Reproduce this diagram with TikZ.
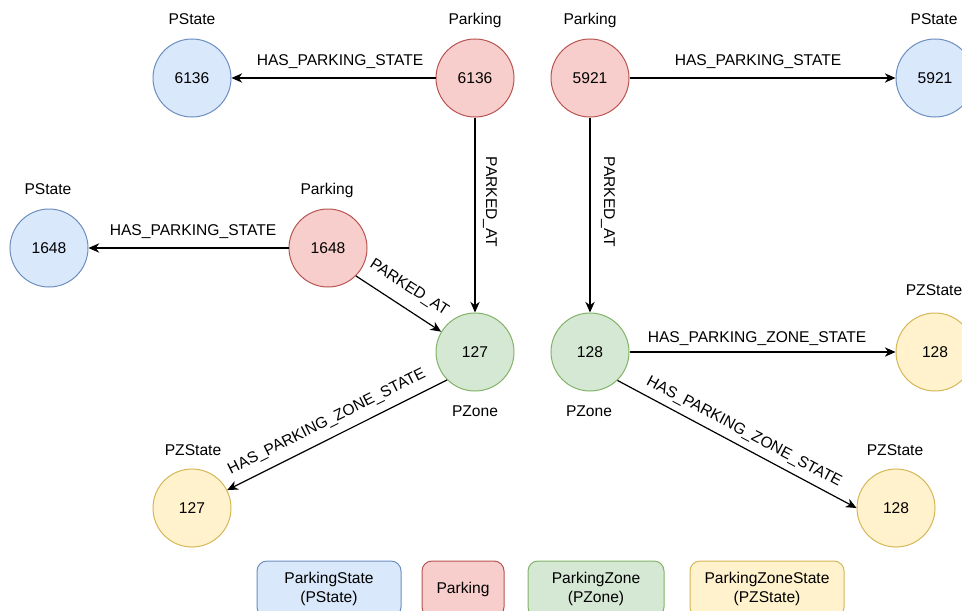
\documentclass[tikz,border=0pt]{standalone}
\usepackage{fontspec}
\setmainfont{Liberation Sans}
\usetikzlibrary{arrows.meta}
\definecolor{bfill}{HTML}{DAE8FC}\definecolor{bdraw}{HTML}{6C8EBF}
\definecolor{rfill}{HTML}{F8CECC}\definecolor{rdraw}{HTML}{B85450}
\definecolor{gfill}{HTML}{D5E8D4}\definecolor{gdraw}{HTML}{82B366}
\definecolor{yfill}{HTML}{FFF2CC}\definecolor{ydraw}{HTML}{D6B656}
\begin{document}
\begin{tikzpicture}[x=0.75pt,y=-0.75pt,
  every node/.style={font=\fontsize{11.7}{14.2}\selectfont},
  circ/.style={circle, minimum size=58.5pt, inner sep=0pt, line width=0.75pt},
  pstate/.style={circ, draw=bdraw, fill=bfill},
  parking/.style={circ, draw=rdraw, fill=rfill},
  pzone/.style={circ, draw=gdraw, fill=gfill},
  pzstate/.style={circ, draw=ydraw, fill=yfill},
  edge/.style={draw=black, line width=0.9pt, -{Stealth[length=8pt,width=7pt,inset=2.5pt]}},
  lbl/.style={inner sep=0pt},
  captxt/.style={inner sep=0pt, anchor=base},
  legend/.style={rounded corners=7.5pt, line width=0.75pt, minimum height=42pt, align=center, inner sep=0pt}]
\useasboundingbox (0,0) rectangle (962,610);
\clip (0,0) rectangle (962,610);
% nodes
\node[pstate]  (s6136) at (192,78) {6136};
\node[parking] (p6136) at (475,78) {6136};
\node[parking] (p5921) at (590,78) {5921};
\node[pstate]  (s5921) at (935,78) {5921};
\node[pstate]  (s1648) at (49,248) {1648};
\node[parking] (p1648) at (328,248) {1648};
\node[pzone]   (z127) at (475,352) {127};
\node[pzone]   (z128) at (590,352) {128};
\node[pzstate] (zs128a) at (935,352) {128};
\node[pzstate] (zs128b) at (896,508) {128};
\node[pzstate] (zs127) at (192,508) {127};
% captions
\node[captxt] (c1) at (192,25) {PState};
\node[captxt] (c2) at (475,25) {Parking};
\node[captxt] (c3) at (590,25) {Parking};
\node[captxt] (c4) at (934,25) {PState};
\node[captxt] (c5) at (48,194) {PState};
\node[captxt] (c6) at (327,194) {Parking};
\node[captxt] (c7) at (475,416) {PZone};
\node[captxt] (c8) at (589,416) {PZone};
\node[captxt] (c9) at (934,295) {PZState};
\node[captxt] (c10) at (895,455) {PZState};
\node[captxt] (c11) at (193,455) {PZState};
% edges
\draw[edge] (p6136) -- (s6136);
\draw[edge] (p6136) -- (z127);
\draw[edge] (p5921) -- (s5921);
\draw[edge] (p5921) -- (z128);
\draw[edge] (p1648) -- (s1648);
\draw[edge] (p1648.-45) -- (z127.149);
\draw[edge] (z127.225) -- (zs127.27);
\draw[edge] (z128) -- (zs128a);
\draw[edge] (z128.-46) -- (zs128b.west);
% edge labels
\node[captxt] (e1) at (340,65) {HAS\_PARKING\_STATE};
\node[captxt] (e2) at (758,65) {HAS\_PARKING\_STATE};
\node[captxt] (e3) at (193,235) {HAS\_PARKING\_STATE};
\node[lbl, rotate=-90] (e4) at (490,202) {PARKED\_AT};
\node[lbl, rotate=-90] (e5) at (608,202) {PARKED\_AT};
\node[lbl, rotate=-33] (e6) at (409,288) {PARKED\_AT};
\node[captxt] (e7) at (757,342.5) {HAS\_PARKING\_ZONE\_STATE};
\node[lbl, rotate=-28] (e8) at (744,432) {HAS\_PARKING\_ZONE\_STATE};
\node[lbl, rotate=26.5] (e9) at (327,422) {HAS\_PARKING\_ZONE\_STATE};
% legend
\node[legend, draw=bdraw, fill=bfill, minimum width=108pt] (lg1) at (329,589) {ParkingState\\(PState)};
\node[legend, draw=rdraw, fill=rfill, minimum width=61.5pt] (lg2) at (463,589) {Parking};
\node[legend, draw=gdraw, fill=gfill, minimum width=102pt] (lg3) at (596,589) {ParkingZone\\(PZone)};
\node[legend, draw=ydraw, fill=yfill, minimum width=115.5pt] (lg4) at (767,589) {ParkingZoneState\\(PZState)};
\end{tikzpicture}
\end{document}
